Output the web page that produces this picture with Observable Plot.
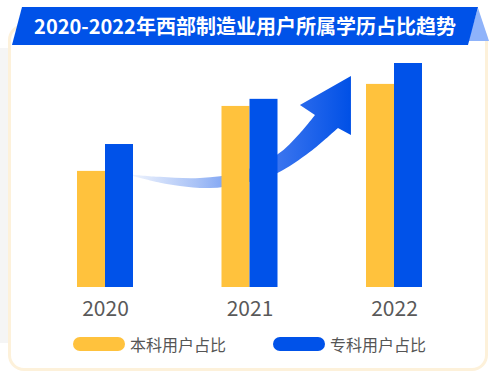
<!DOCTYPE html>
<html>
<head>
<meta charset="utf-8">
<script src="https://cdn.jsdelivr.net/npm/d3@7"></script>
<script src="https://cdn.jsdelivr.net/npm/@observablehq/plot@0.6"></script>
<style>
  html, body { margin: 0; padding: 0; background: #fff; }
  body { width: 496px; height: 382px; position: relative; overflow: hidden;
         font-family: "Noto Sans CJK SC", "Noto Sans", sans-serif; }
  #side { position: absolute; left: 0; top: 48px; width: 14px; height: 295px; background: #f5f5f5; }
  #card { position: absolute; left: 8px; top: 24px; width: 480px; height: 347px; box-sizing: border-box;
          border: 3px solid #fdf1da; border-radius: 16px; background: #fff; }
  #chart { position: absolute; left: 0; top: 0; }
  #banner { position: absolute; left: 0; top: 0; width: 496px; height: 50px; }
  #title { position: absolute; left: 12px; top: 7px; width: 466px; height: 38px; line-height: 38px;
           text-align: center; color: #fff; font-weight: bold; font-size: 20px; }
  .legend { position: absolute; top: 335px; height: 18px; display: flex; align-items: center;
            font-size: 16px; color: #555; }
  .pill { width: 52px; height: 14px; border-radius: 7px; margin-right: 5px; }
</style>
</head>
<body>
<div id="side"></div>
<div id="card"></div>
<div id="chart"></div>
<svg id="banner" width="496" height="50">
  <polygon points="478,8 489,41 468,41" fill="#8fb3fa"></polygon>
  <polygon points="22,7 478,7 468,45 12,45" fill="#0052e8"></polygon>
</svg>
<div id="title"></div>
<div id="legend"></div>
<script>
const title = "2020-2022年西部制造业用户所属学历占比趋势";
const years = [2020, 2021, 2022];
const seriesNames = ["本科用户占比", "专科用户占比"];
const undergrad = [31.1, 48.5, 54.4];
const junior = [38.3, 50.4, 60.0];
const colors = ["#FFC23D", "#0052E9"];

// decorative rising arrow outline, in (year, value) coordinates
const arrowUpper = [[2020.194, 30.1], [2020.381, 29.5], [2020.657, 29.2], [2020.934, 30.8], [2021.190, 35.4], [2021.349, 41.2], [2021.453, 46.1]];
const arrowHead = [[2021.349, 48.75], [2021.702, 56.5], [2021.702, 40.7]];
const arrowLower = [[2021.612, 42.6], [2021.419, 36.2], [2021.190, 30.5], [2020.934, 27.6], [2020.727, 26.5], [2020.519, 27.05], [2020.381, 27.9], [2020.194, 29.7]];

document.getElementById("title").textContent = title;

const halfW = 28 / 144.5;
const rows = [];
years.forEach((y, i) => {
  rows.push({year: y, series: seriesNames[0], value: undergrad[i], x1: y - halfW, x2: y});
  rows.push({year: y, series: seriesNames[1], value: junior[i], x1: y, x2: y + halfW});
});

function arrowMark(index, scales) {
  const sx = scales.x, sy = scales.y;
  const px = pts => pts.map(([a, b]) => [sx(a), sy(b)]);
  const lineC = d3.line().curve(d3.curveCatmullRom);
  const up = lineC(px(arrowUpper));
  const head = px(arrowHead).map(p => `L${p[0]},${p[1]}`).join("");
  const low = lineC(px(arrowLower)).replace(/^M/, "L");
  const g = d3.create("svg:g");
  const grad = g.append("defs").append("linearGradient")
    .attr("id", "arrowGrad").attr("gradientUnits", "userSpaceOnUse")
    .attr("x1", sx(arrowUpper[0][0])).attr("x2", sx(arrowHead[1][0]))
    .attr("y1", 0).attr("y2", 0);
  [["0", "#eef3fd"], ["0.3", "#a6c0f6"], ["0.65", "#3d76ef"], ["1", "#0050e6"]]
    .forEach(([o, c]) => grad.append("stop").attr("offset", o).attr("stop-color", c));
  g.append("path").attr("d", up + head + low + "Z").attr("fill", "url(#arrowGrad)");
  return g.node();
}

const plot = Plot.plot({
  width: 496,
  height: 330,
  marginLeft: 105,
  marginRight: 102,
  marginTop: 63,
  marginBottom: 43,
  style: {background: "transparent", fontSize: "21px", fontFamily: "'Noto Sans CJK SC', sans-serif", color: "#595959"},
  x: {type: "linear", domain: [2020, 2022], ticks: years, tickFormat: d => String(d), tickSize: 0, tickPadding: 14, label: null},
  y: {domain: [0, 60], axis: null},
  color: {domain: seriesNames, range: colors},
  marks: [
    arrowMark,
    Plot.rectY(rows, {x1: "x1", x2: "x2", y: "value", fill: "series"})
  ]
});
document.getElementById("chart").appendChild(plot);

const leg = document.getElementById("legend");
const legX = [73, 273];
seriesNames.forEach((s, i) => {
  const d = document.createElement("div");
  d.className = "legend";
  d.style.left = legX[i] + "px";
  d.innerHTML = `<div class="pill" style="background:${colors[i]}"></div><span>${s}</span>`;
  leg.appendChild(d);
});
</script>
</body>
</html>
